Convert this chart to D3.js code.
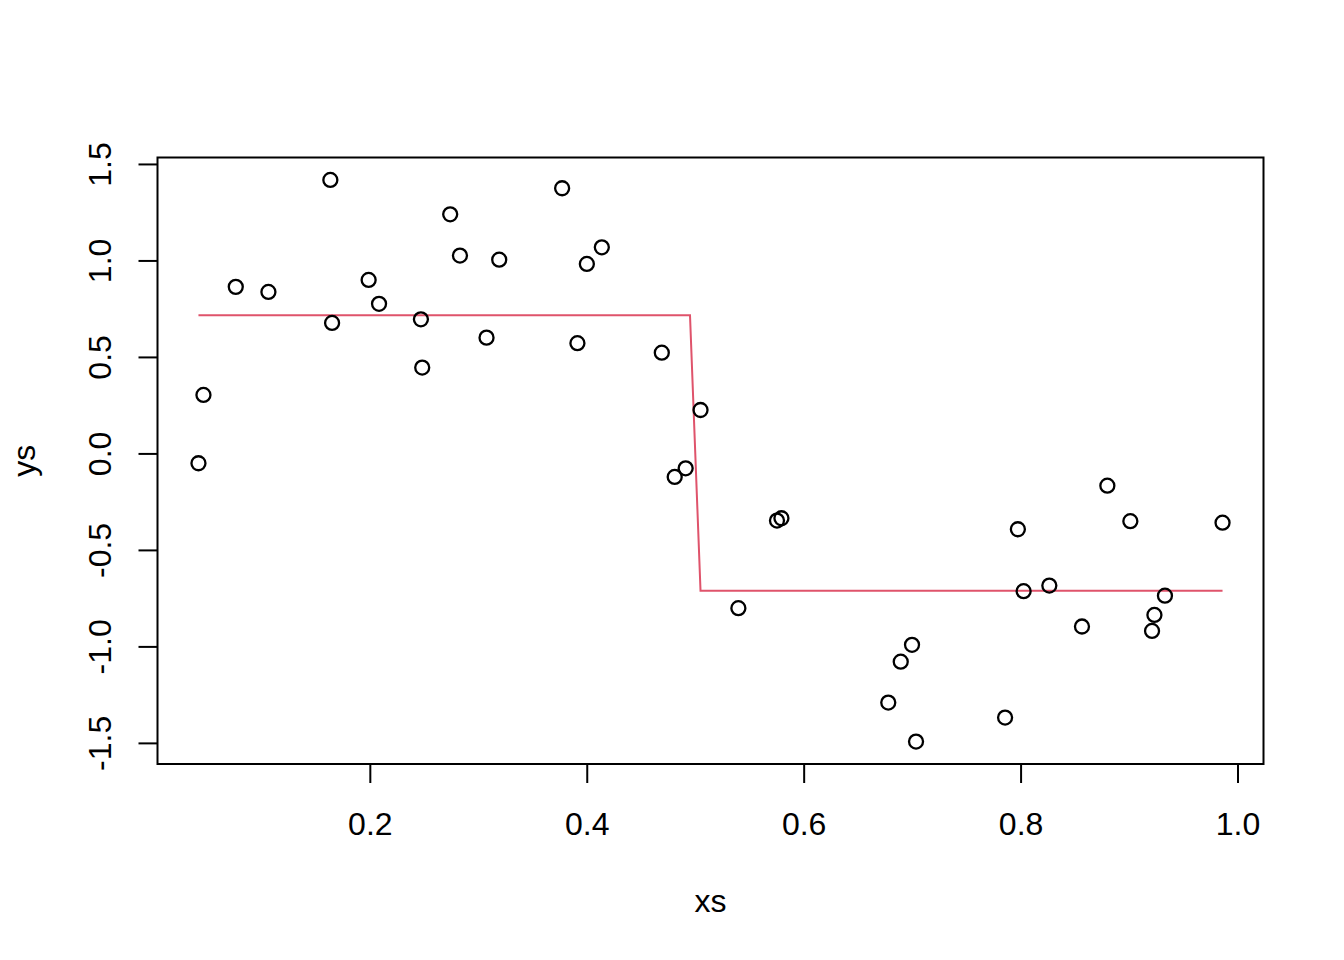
<!DOCTYPE html>
<html>
<head>
<meta charset="utf-8">
<script src="https://cdn.jsdelivr.net/npm/d3@7"></script>
<style>
  html, body { margin: 0; padding: 0; background: #fff; }
  svg { display: block; }
  text { font-family: "Liberation Sans", Arial, Helvetica, sans-serif; fill: #000; }
</style>
</head>
<body>
<svg id="chart" width="1344" height="960"></svg>
<script>
// Data
const xs = [0.0420, 0.0466, 0.0764, 0.1065, 0.1636, 0.1652, 0.1989, 0.2085, 0.2471, 0.2483,
            0.2741, 0.2831, 0.3076, 0.3193, 0.3773, 0.3914, 0.4001, 0.4139, 0.4692, 0.4811,
            0.4912, 0.5049, 0.5398, 0.5754, 0.5795, 0.6780, 0.6895, 0.6999, 0.7036, 0.7857,
            0.7975, 0.8028, 0.8265, 0.8566, 0.8800, 0.9012, 0.9212, 0.9234, 0.9331, 0.9862];
const ys = [-0.051, 0.303, 0.863, 0.837, 1.417, 0.676, 0.899, 0.775, 0.695, 0.445,
            1.239, 1.025, 0.600, 1.004, 1.374, 0.571, 0.982, 1.068, 0.522, -0.122,
            -0.077, 0.225, -0.802, -0.348, -0.336, -1.291, -1.079, -0.992, -1.493, -1.369,
            -0.393, -0.714, -0.685, -0.897, -0.167, -0.351, -0.920, -0.837, -0.737, -0.359];

// Fitted step line
const fitX = [0.0420, 0.4952, 0.5049, 0.9862];
const fitY = [0.716, 0.716, -0.712, -0.712];

const xTicks = [0.2, 0.4, 0.6, 0.8, 1.0];
const yTicks = [-1.5, -1.0, -0.5, 0.0, 0.5, 1.0, 1.5];

const svg = d3.select("#chart");
const plot = { left: 157.5, right: 1263.5, top: 157.5, bottom: 764 };

function rExtent(arr) {
  const [a, b] = d3.extent(arr);
  const d = (b - a) * 0.04;
  return [a - d, b + d];
}

const fmt = d => d3.format(".1f")(d).replace("\u2212", "-");

const x = d3.scaleLinear().domain(rExtent(xs)).range([plot.left, plot.right]);
const y = d3.scaleLinear().domain(rExtent(ys)).range([plot.bottom, plot.top]);

const tickLen = 19;

// X axis
const xAxis = d3.axisBottom(x).tickValues(xTicks).tickFormat(fmt)
  .tickSize(tickLen).tickSizeOuter(0).tickPadding(0);
const gx = svg.append("g").attr("transform", `translate(0,${plot.bottom})`).call(xAxis);
gx.select(".domain").remove();
gx.selectAll(".tick line").attr("stroke", "#000").attr("stroke-width", 2);
gx.selectAll(".tick text").attr("font-size", 32).attr("dy", null).attr("y", 71)
  .style("font-family", '"Liberation Sans", Arial, sans-serif');

// Y axis
const yAxis = d3.axisLeft(y).tickValues(yTicks).tickFormat(fmt)
  .tickSize(tickLen).tickSizeOuter(0).tickPadding(0);
const gy = svg.append("g").attr("transform", `translate(${plot.left},0)`).call(yAxis);
gy.select(".domain").remove();
gy.selectAll(".tick line").attr("stroke", "#000").attr("stroke-width", 2);
gy.selectAll(".tick text").remove();
gy.selectAll(".tick").append("text")
  .attr("transform", "translate(-47,0) rotate(-90)")
  .attr("text-anchor", "middle")
  .attr("font-size", 32)
  .text(fmt);

// Box
svg.append("rect")
  .attr("x", plot.left).attr("y", plot.top)
  .attr("width", plot.right - plot.left).attr("height", plot.bottom - plot.top)
  .attr("fill", "none").attr("stroke", "#000").attr("stroke-width", 2);

// Fitted line
const line = d3.line().x(d => x(d[0])).y(d => y(d[1]));
svg.append("path")
  .datum(d3.zip(fitX, fitY))
  .attr("d", line)
  .attr("fill", "none")
  .attr("stroke", "#DF536B")
  .attr("stroke-width", 2);

// Points
svg.append("g").selectAll("circle")
  .data(d3.zip(xs, ys))
  .join("circle")
  .attr("cx", d => x(d[0]))
  .attr("cy", d => y(d[1]))
  .attr("r", 7)
  .attr("fill", "none")
  .attr("stroke", "#000")
  .attr("stroke-width", 2.3);

// Axis titles
svg.append("text")
  .attr("x", (plot.left + plot.right) / 2).attr("y", 912)
  .attr("text-anchor", "middle").attr("font-size", 32).text("xs");
svg.append("text")
  .attr("transform", `translate(35,${(plot.top + plot.bottom) / 2}) rotate(-90)`)
  .attr("text-anchor", "middle").attr("font-size", 32).text("ys");
</script>
</body>
</html>
